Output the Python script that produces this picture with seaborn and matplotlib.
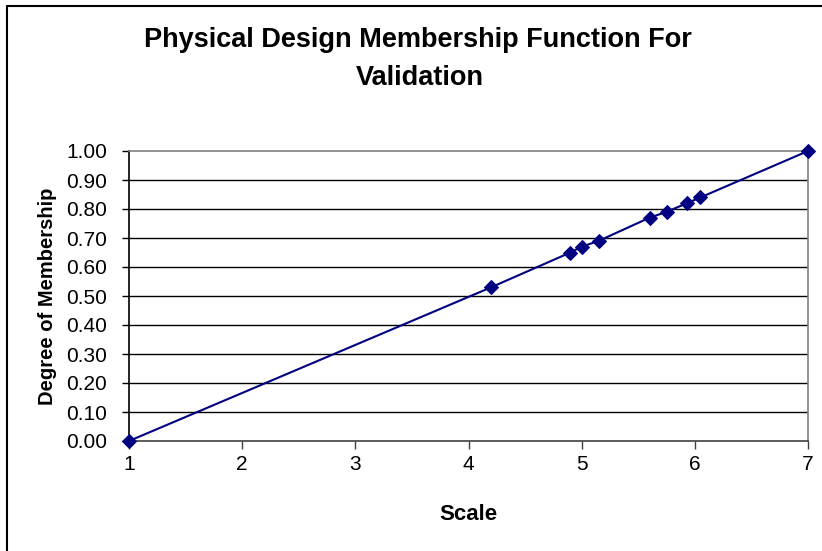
import matplotlib
matplotlib.use("Agg")
import matplotlib.pyplot as plt
import seaborn as sns
import pandas as pd
from matplotlib.lines import Line2D

# Scale values and their degree of membership
scale = [1.0, 4.2, 4.9, 5.0, 5.15, 5.6, 5.75, 5.93, 6.05, 7.0]
membership = [0.00, 0.53, 0.65, 0.67, 0.69, 0.77, 0.79, 0.82, 0.84, 1.00]
x_ticks = [1, 2, 3, 4, 5, 6, 7]
y_ticks = [0.0, 0.1, 0.2, 0.3, 0.4, 0.5, 0.6, 0.7, 0.8, 0.9, 1.0]

df = pd.DataFrame({"Scale": scale, "Membership": membership})

sns.set_style("white")
plt.rcParams["font.family"] = ["Liberation Sans", "DejaVu Sans"]
plt.rcParams["text.color"] = "black"
plt.rcParams["axes.labelcolor"] = "black"
plt.rcParams["xtick.color"] = "black"
plt.rcParams["ytick.color"] = "black"

fig = plt.figure(figsize=(8.22, 5.51), dpi=100)
ax = fig.add_axes([129 / 822, 110 / 551, 679 / 822, 290 / 551])

navy = "#000080"
sns.lineplot(data=df, x="Scale", y="Membership", ax=ax, sort=False,
             estimator=None, color=navy, linewidth=1.5, marker="D",
             markersize=7, markeredgecolor=navy, markerfacecolor=navy,
             clip_on=False, zorder=5)

ax.set_xlim(1, 7)
ax.set_ylim(0, 1)
ax.set_xticks(x_ticks)
ax.set_yticks(y_ticks)
ax.set_xticklabels([str(t) for t in x_ticks], fontsize=15)
ax.set_yticklabels([f"{t:.2f}" for t in y_ticks], fontsize=15)
ax.tick_params(axis="y", direction="out", length=5, width=1, color="black",
               pad=11, left=True)
ax.tick_params(axis="x", direction="out", length=6, width=1, color="#404040",
               pad=4, bottom=True)

for y in y_ticks[1:-1]:
    ax.axhline(y, color="black", linewidth=1, zorder=1)

for side in ["top", "right"]:
    ax.spines[side].set_visible(True)
    ax.spines[side].set_color("#808080")
    ax.spines[side].set_linewidth(1.2)
ax.spines["left"].set_color("black")
ax.spines["left"].set_linewidth(1.2)
ax.spines["bottom"].set_color("#404040")
ax.spines["bottom"].set_linewidth(1.2)

ax.set_xlabel("Scale", fontsize=16, fontweight="bold", labelpad=22)
ax.set_ylabel("Degree of Membership", fontsize=14.5, fontweight="bold", labelpad=6)

fig.text(0.509, 1 - 40 / 551, "Physical Design Membership Function For",
         ha="center", va="center", fontsize=19.5, fontweight="bold")
fig.text(0.511, 1 - 78 / 551, "Validation",
         ha="center", va="center", fontsize=19.5, fontweight="bold")

# Chart frame along the left and top edges
fig.add_artist(Line2D([7 / 822, 7 / 822], [0, 1 - 6 / 551], transform=fig.transFigure,
                      color="black", linewidth=1.5))
fig.add_artist(Line2D([7 / 822, 1], [1 - 6 / 551, 1 - 6 / 551], transform=fig.transFigure,
                      color="black", linewidth=1.5))

fig.savefig("out.png", dpi=100)
